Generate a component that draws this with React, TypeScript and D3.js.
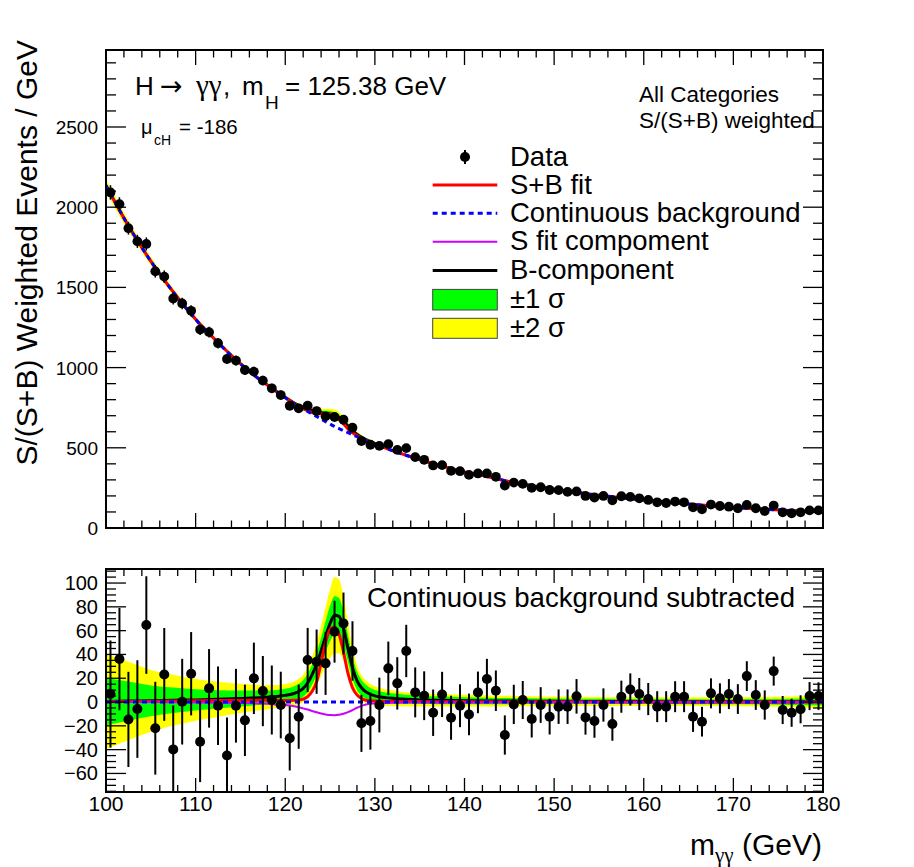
import React from 'react';
import * as d3 from 'd3';

// ---------------- DATA ----------------
// bin centres of the 1-GeV bins from 100 to 180 GeV
const binCentres: number[] = d3.range(80).map((i) => 100.5 + i);

// S/(S+B) weighted events per GeV (upper panel)
const weightedEvents: number[] = [
  2092, 2019, 1869, 1787, 1771, 1600, 1567, 1431, 1400, 1354,
  1237, 1221, 1152, 1054, 1044, 985, 975, 919, 871, 829,
  762, 746, 762, 729, 696, 692, 675, 625, 542, 519,
  512, 523, 487, 498, 442, 425, 390, 392, 356, 354,
  331, 340, 340, 319, 265, 283, 275, 250, 254, 237,
  236, 225, 228, 200, 190, 200, 173, 198, 194, 185,
  175, 160, 156, 165, 160, 129, 117, 146, 137, 133,
  123, 144, 123, 106, 140, 98, 92, 98, 110, 110,
];

// continuous background subtracted (lower panel)
const bkgSubtracted: number[] = [
  6.7, 36.1, -14.6, -5.9, 64.7, -22, 23.2, -39.8, 0.3, 23.8,
  -33.3, 11.5, -3.1, -45, -3.1, -15.4, 19.9, 9.2, 1.7, -2.5,
  -30.5, -12.3, 35.3, 33.9, 32.5, 59.1, 66, 42.9, -17.9, -16,
  -2.5, 28.3, 15.7, 42.9, 8.1, 5.3, -9, 6.4, -13.2, -3.1,
  -10.4, 8.1, 19.3, 9.5, -27.7, -2, 1.7, -14.3, -2.5, -12.3,
  -3.9, -3.9, 4.8, -12.9, -16, -2.5, -18.5, 4.5, 10.6, 6.7,
  2.5, -3.9, -3.9, 4.5, 4.5, -12.3, -16.5, 7.3, 3.1, 6.7,
  2.5, 21.8, 5.9, -2.5, 26, -6.7, -9, -6.1, 5, 5,
];

// statistical error of each bin
const binErrors: number[] = [
  45, 43, 40, 41, 41, 39, 39, 37, 36, 35,
  34, 33, 33, 32, 31, 30, 30, 29.5, 29, 28,
  27, 27, 27, 27, 26.5, 26, 26, 25, 24, 24,
  23, 22.5, 22, 22, 21, 20.5, 19.5, 19, 18.5, 18,
  17.5, 17.5, 17, 17, 16.5, 16.5, 16, 15.5, 15, 15,
  14.5, 14.5, 14.5, 14.5, 14, 14, 14, 13.5, 13.5, 13.5,
  13.5, 13, 13, 13, 13, 12.8, 12.5, 12.6, 12.6, 12.6,
  12.5, 12.5, 12.5, 12.3, 12.2, 11.8, 11.8, 11.8, 11.8, 11.6,
];

// fitted curves, read at these masses
const curveMass: number[] = [
  100, 102.5, 105, 107.5, 110, 112.5, 115, 117.5, 119, 120,
  121, 121.5, 122, 122.5, 123, 123.5, 124, 124.5, 125, 125.5,
  126, 126.5, 127, 127.5, 128, 128.5, 129, 130, 132.5, 135,
  137.5, 140, 142.5, 145, 147.5, 150, 155, 160, 165, 170, 175, 180,
];
// continuous background (upper panel)
const continuousBkg: number[] = [
  2135, 1884, 1663, 1471, 1300, 1155, 1023, 910, 850, 812,
  775, 758, 742, 727, 711, 695, 679, 663, 648, 633,
  620, 607, 594, 582, 570, 558, 546, 524, 471, 427,
  386, 349, 321, 289, 264, 242, 204, 174, 149, 128, 112, 100,
];
// B-component (resonant), background subtracted
const bComponent: number[] = [
  0.5, 0.8, 1.0, 1.5, 1.8, 2.3, 3.0, 3.8, 4.6, 5.6,
  7.2, 8.8, 11.5, 16, 23, 32, 43, 55, 66, 73,
  72, 62, 45, 29, 18, 12, 8.5, 5.2, 2.8, 1.8,
  1.4, 1.1, 0.9, 0.8, 0.7, 0.6, 0.5, 0.4, 0.3, 0.3, 0.2, 0.2,
];
// S+B fit, background subtracted
const sbFitSub: number[] = [
  0.3, 0.5, 0.6, 0.8, 1.0, 1.2, 1.4, 1.5, 1.5, 1.2,
  1.5, 1.8, 2.5, 4.5, 9, 17, 33, 50, 61, 63,
  57, 42, 24, 12, 6, 3, 1.5, 0.8, 0.5, 0.4,
  0.3, 0.3, 0.3, 0.2, 0.2, 0.2, 0.1, 0.1, 0.1, 0.1, 0.1, 0.1,
];
// S fit component
const sComponent: number[] = [
  0.2, 0.1, 0, -0.2, -0.3, -0.5, -0.8, -1.3, -2.0, -2.5,
  -3.5, -4.3, -5.3, -6.3, -7.5, -8.6, -9.6, -10.4, -10.9, -11,
  -10.6, -9.8, -8.5, -6.8, -4.8, -3.2, -2.0, -1.0, -0.5, -0.4,
  -0.3, -0.3, -0.3, -0.2, -0.2, -0.2, -0.2, -0.2, -0.1, -0.1, -0.1, -0.1,
];
// half widths of the ±1σ and ±2σ bands
const band1Half: number[] = [
  20, 16.5, 13, 10.8, 9, 7.7, 6.7, 5.9, 5.6, 5.5,
  6, 6.5, 7, 7.8, 8.5, 9.7, 11, 13, 15, 16,
  15.5, 14, 11.5, 9.5, 7.8, 6.8, 6, 5, 4.1, 3.5,
  3.2, 3, 2.8, 2.6, 2.4, 2.3, 2.2, 2.1, 2.1, 2.1, 2.4, 3.2,
];
const band2Half: number[] = [
  40, 33, 26, 21.5, 17.5, 14.8, 12.3, 10.4, 9.7, 9.5,
  10, 10.7, 11.5, 13, 15, 18, 21, 25, 29, 32,
  31, 27, 22, 17, 13, 10.5, 9.5, 8, 6.3, 5.5,
  5.2, 5, 4.7, 4.5, 4.2, 4, 3.8, 3.7, 3.7, 3.8, 4.2, 5.5,
];

const xTickLabels: number[] = [100, 110, 120, 130, 140, 150, 160, 170, 180];
const topYTickLabels: number[] = [0, 500, 1000, 1500, 2000, 2500];
const botYTickLabels: number[] = [-60, -40, -20, 0, 20, 40, 60, 80, 100];

const legendLabels: string[] = [
  'Data', 'S+B fit', 'Continuous background', 'S fit compoment', 'B-component', '±1 σ', '±2 σ',
];

// ---------------- STYLE ----------------
const FONT = '"Liberation Sans", Arial, Helvetica, sans-serif';
const SERIF = '"Liberation Serif", "DejaVu Serif", serif';
const RED = '#ff0000';
const BLUE = '#0000ff';
const PURPLE = '#cc00ff';
const GREEN = '#00ff00';
const YELLOW = '#ffff00';

const W = 914;
const H = 867;
const FR = { left: 106, right: 823 };
const TOP = { top: 50, bottom: 528 };
const BOT = { top: 569, bottom: 792 };

const x = d3.scaleLinear().domain([100, 180]).range([FR.left, FR.right]);
const yT = d3.scaleLinear().domain([0, 2980]).range([TOP.bottom, TOP.top]);
const yB = d3.scaleLinear().domain([-75.6, 111.8]).range([BOT.bottom, BOT.top]);

type Pt = { m: number; v: number };

function ticksFor(
  yScale: d3.ScaleLinear<number, number>,
  box: { top: number; bottom: number },
  xMaj: number, xMin: number, yMajVals: number[], yMinVals: number[], yMaj: number, yMin: number,
) {
  const out: JSX.Element[] = [];
  const xMajors = d3.range(100, 180.001, 10);
  const xMinors = d3.range(100, 180.001, 2);
  xMinors.forEach((m, i) => {
    const isMaj = xMajors.some((t) => Math.abs(t - m) < 1e-6);
    const len = isMaj ? xMaj : xMin;
    out.push(<line key={'xb' + i} x1={x(m)} x2={x(m)} y1={box.bottom} y2={box.bottom - len} />);
    out.push(<line key={'xt' + i} x1={x(m)} x2={x(m)} y1={box.top} y2={box.top + len} />);
  });
  yMinVals.forEach((v, i) => {
    const isMaj = yMajVals.some((t) => Math.abs(t - v) < 1e-6);
    const len = isMaj ? yMaj : yMin;
    const yy = yScale(v);
    if (yy < box.top - 0.5 || yy > box.bottom + 0.5) return;
    out.push(<line key={'yl' + i} x1={FR.left} x2={FR.left + len} y1={yy} y2={yy} />);
    out.push(<line key={'yr' + i} x1={FR.right} x2={FR.right - len} y1={yy} y2={yy} />);
  });
  return out;
}

export default function App() {
  const idx = curveMass.map((_, i) => i);

  // ---- top panel shapes ----
  const topBand = (half: number[]) =>
    d3.area<number>()
      .x((i) => x(curveMass[i]))
      .y0((i) => yT(continuousBkg[i] + bComponent[i] - half[i]))
      .y1((i) => yT(continuousBkg[i] + bComponent[i] + half[i]))
      .curve(d3.curveMonotoneX)(idx) || '';
  const topLine = (f: (i: number) => number) =>
    d3.line<number>().x((i) => x(curveMass[i])).y((i) => yT(f(i))).curve(d3.curveMonotoneX)(idx) || '';

  // ---- bottom panel shapes ----
  const botBand = (half: number[]) =>
    d3.area<number>()
      .x((i) => x(curveMass[i]))
      .y0((i) => yB(bComponent[i] - half[i]))
      .y1((i) => yB(bComponent[i] + half[i]))
      .curve(d3.curveMonotoneX)(idx) || '';
  const botLine = (arr: number[]) =>
    d3.line<number>().x((i) => x(curveMass[i])).y((i) => yB(arr[i])).curve(d3.curveMonotoneX)(idx) || '';

  const topPoints: Pt[] = binCentres.map((m, i) => ({ m, v: weightedEvents[i] }));
  const botPoints: Pt[] = binCentres.map((m, i) => ({ m, v: bkgSubtracted[i] }));

  const topYMinor = d3.range(0, 2981, 100);
  const botYMinor = d3.range(-75, 112, 5);

  const legendRows = [157, 185, 213.3, 241.7, 270.5, 299.7, 328.3];
  const lx0 = 432.7;
  const lx1 = 497.3;

  return (
    <svg
      width={W}
      height={H}
      style={{ position: 'absolute', left: 0, top: 0, background: '#fff' }}
      fontFamily={FONT}
    >
      <defs>
        <clipPath id="clipTop">
          <rect x={FR.left} y={TOP.top} width={FR.right - FR.left} height={TOP.bottom - TOP.top} />
        </clipPath>
        <clipPath id="clipBot">
          <rect x={FR.left} y={BOT.top} width={FR.right - FR.left} height={BOT.bottom - BOT.top} />
        </clipPath>
      </defs>
      <rect x={0} y={0} width={W} height={H} fill="#fff" />

      {/* ===== TOP PANEL ===== */}
      <g clipPath="url(#clipTop)">
        <path d={topBand(band2Half)} fill={YELLOW} />
        <path d={topBand(band1Half)} fill={GREEN} />
        <path d={topLine((i) => continuousBkg[i] + bComponent[i])} fill="none" stroke="#000" strokeWidth={2} />
        <path d={topLine((i) => continuousBkg[i] + sbFitSub[i])} fill="none" stroke={RED} strokeWidth={3} />
        <path d={topLine((i) => continuousBkg[i])} fill="none" stroke={BLUE} strokeWidth={3} strokeDasharray="5 4" />
        {topPoints.map((p, i) => (
          <g key={'tp' + i}>
            <line x1={x(p.m)} x2={x(p.m)} y1={yT(p.v - binErrors[i])} y2={yT(p.v + binErrors[i])} stroke="#000" strokeWidth={1.5} />
            <circle cx={x(p.m)} cy={yT(p.v)} r={4.9} fill="#000" />
          </g>
        ))}
      </g>
      <g stroke="#000" strokeWidth={1.3}>
        {ticksFor(yT, TOP, 15, 7.5, topYTickLabels, topYMinor, 20, 10)}
      </g>
      <rect x={FR.left} y={TOP.top} width={FR.right - FR.left} height={TOP.bottom - TOP.top} fill="none" stroke="#000" strokeWidth={2} />
      {topYTickLabels.map((v) => (
        <text key={'tyl' + v} x={98} y={yT(v) + 7} fontSize={19} textAnchor="end">{v}</text>
      ))}

      {/* Y title */}
      <text transform="translate(37,40) rotate(-90)" fontSize={30} textAnchor="end">
        S/(S+B) Weighted Events / GeV
      </text>

      {/* Title texts */}
      <text x={135} y={95} fontSize={26}>H</text>
      <text x={160} y={95} fontSize={27} fontFamily='"DejaVu Sans", sans-serif'>→</text>
      <text x={196} y={95} fontSize={29} fontFamily={SERIF}>γγ</text>
      <text x={223} y={95} fontSize={26}>,</text>
      <text x={242} y={95} fontSize={26}>m</text>
      <text x={265} y={109} fontSize={19}>H</text>
      <text x={285} y={95} fontSize={26}>= 125.38 GeV</text>
      <text x={141} y={134} fontSize={20}>μ</text>
      <text x={154} y={145} fontSize={14}>cH</text>
      <text x={179} y={134} fontSize={20.5}>= -186</text>
      <text x={639} y={101.5} fontSize={22.5}>All Categories</text>
      <text x={639} y={128.3} fontSize={22.5}>S/(S+B) weighted</text>

      {/* Legend */}
      <g>
        <line x1={465} x2={465} y1={legendRows[0] - 7} y2={legendRows[0] + 7} stroke="#000" strokeWidth={2} />
        <circle cx={465} cy={legendRows[0]} r={5} fill="#000" />
        <line x1={lx0} x2={lx1} y1={legendRows[1]} y2={legendRows[1]} stroke={RED} strokeWidth={3} />
        <line x1={lx0} x2={lx1} y1={legendRows[2]} y2={legendRows[2]} stroke={BLUE} strokeWidth={3} strokeDasharray="5 4" />
        <line x1={lx0} x2={lx1} y1={legendRows[3]} y2={legendRows[3]} stroke={PURPLE} strokeWidth={2} />
        <line x1={lx0} x2={lx1} y1={legendRows[4]} y2={legendRows[4]} stroke="#000" strokeWidth={3} />
        <rect x={lx0} y={legendRows[5] - 10.3} width={lx1 - lx0} height={20.6} fill={GREEN} stroke="#444" strokeWidth={1} />
        <rect x={lx0} y={legendRows[6] - 10} width={lx1 - lx0} height={20} fill={YELLOW} stroke="#444" strokeWidth={1} />
        {legendLabels.map((t, i) => (
          <text key={'lg' + i} x={510} y={legendRows[i] + 8.5} fontSize={27.5}>{t}</text>
        ))}
      </g>

      {/* ===== BOTTOM PANEL ===== */}
      <g clipPath="url(#clipBot)">
        <path d={botBand(band2Half)} fill={YELLOW} />
        <path d={botBand(band1Half)} fill={GREEN} />
        <path d={botLine(bComponent)} fill="none" stroke="#000" strokeWidth={3} />
        <path d={botLine(sbFitSub)} fill="none" stroke={RED} strokeWidth={3} />
        <path d={botLine(sComponent)} fill="none" stroke={PURPLE} strokeWidth={2} />
        <line x1={FR.left} x2={FR.right} y1={yB(0)} y2={yB(0)} stroke={BLUE} strokeWidth={3} strokeDasharray="5 4" />
        {botPoints.map((p, i) => (
          <g key={'bp' + i}>
            <line x1={x(p.m)} x2={x(p.m)} y1={yB(p.v - binErrors[i])} y2={yB(p.v + binErrors[i])} stroke="#000" strokeWidth={2} />
            <circle cx={x(p.m)} cy={yB(p.v)} r={5} fill="#000" />
          </g>
        ))}
      </g>
      <g stroke="#000" strokeWidth={1.3}>
        {ticksFor(yB, BOT, 14, 7, botYTickLabels, botYMinor, 20, 10)}
      </g>
      <rect x={FR.left} y={BOT.top} width={FR.right - FR.left} height={BOT.bottom - BOT.top} fill="none" stroke="#000" strokeWidth={2} />
      {botYTickLabels.map((v) => (
        <text key={'byl' + v} x={98} y={yB(v) + 7} fontSize={20} textAnchor="end">
          {v < 0 ? '\u2212' + Math.abs(v) : String(v)}
        </text>
      ))}
      {xTickLabels.map((v) => (
        <text key={'xl' + v} x={x(v)} y={811} fontSize={21} textAnchor="middle">{v}</text>
      ))}
      <text x={367} y={607} fontSize={27.6}>Continuous background subtracted</text>

      {/* X title */}
      <text x={822} y={855} fontSize={30} textAnchor="end">
        m<tspan fontSize={21} dy={7} fontFamily={SERIF}>γγ</tspan><tspan dy={-7} fontSize={30}> (GeV)</tspan>
      </text>
    </svg>
  );
}
